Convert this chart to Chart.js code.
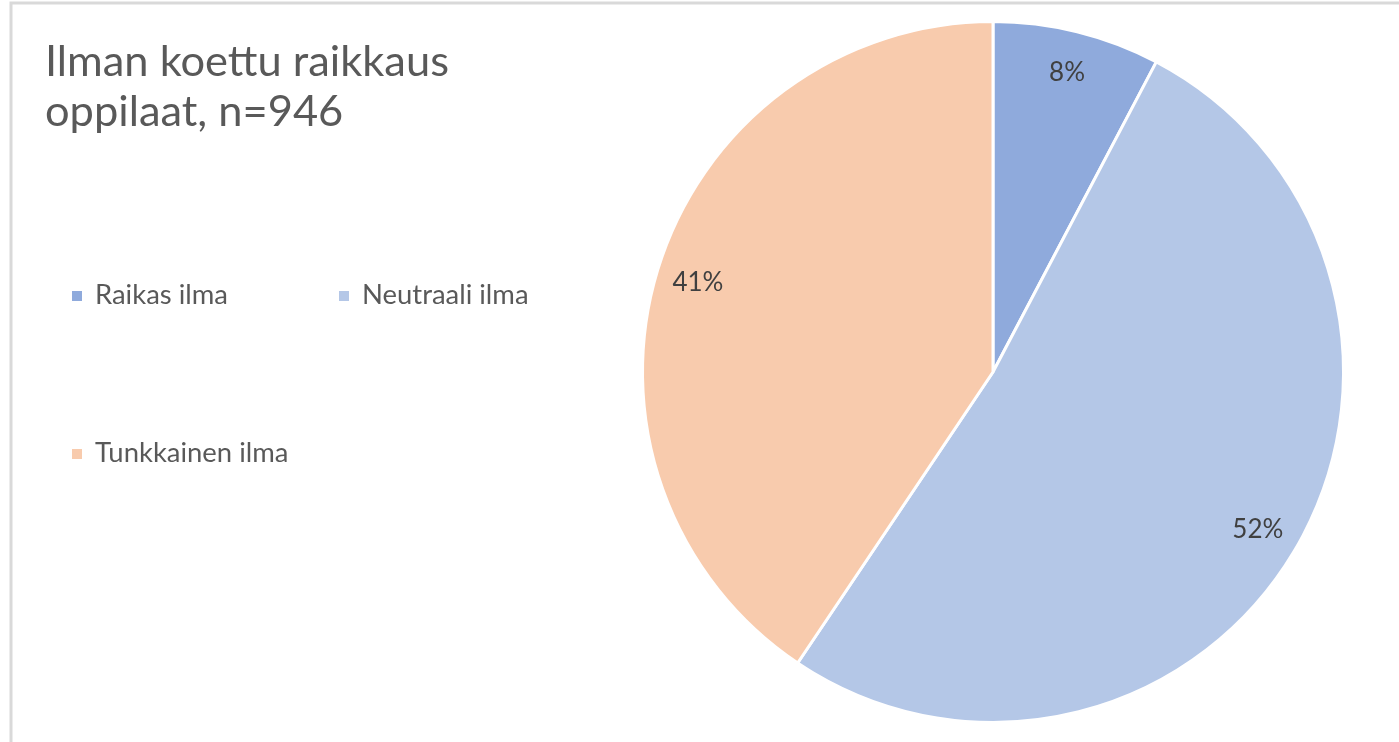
<!DOCTYPE html>
<html>
<head>
<meta charset="utf-8">
<script src="https://cdn.jsdelivr.net/npm/chart.js@4/dist/chart.umd.min.js"></script>
<style>
  html, body { margin: 0; padding: 0; background: #ffffff; }
  #wrap { position: relative; width: 1399px; height: 742px; }
</style>
</head>
<body>
<div id="wrap"><canvas id="c" width="1399" height="742"></canvas></div>
<script>
// ---- data ----
const titleLines = ["Ilman koettu raikkaus", "oppilaat, n=946"];
const categories = ["Raikas ilma", "Neutraali ilma", "Tunkkainen ilma"];
const counts = [73, 489, 384];
const colors = ["#8faadc", "#b4c7e7", "#f8cbad"];

const FAMILY = "Lato, 'Open Sans', sans-serif";

function fitSize(ctx, text, targetW) {
  ctx.font = "100px " + FAMILY;
  const w = ctx.measureText(text).width;
  return 100 * targetW / w;
}

const decor = {
  id: "decor",
  beforeDraw(chart) {
    const ctx = chart.ctx;
    ctx.save();
    ctx.strokeStyle = "#d9d9d9";
    ctx.lineWidth = 3;
    ctx.beginPath();
    ctx.moveTo(11, 742);
    ctx.lineTo(11, 3);
    ctx.lineTo(1399, 3);
    ctx.stroke();
    ctx.restore();
  },
  afterDraw(chart) {
    const ctx = chart.ctx;
    ctx.save();
    // title
    const tSize = fitSize(ctx, titleLines[0], 404);
    ctx.font = tSize + "px " + FAMILY;
    ctx.fillStyle = "#595959";
    ctx.textAlign = "left";
    ctx.textBaseline = "alphabetic";
    ctx.fillText(titleLines[0], 45, 76);
    ctx.fillText(titleLines[1], 45, 126);

    // legend
    const labels = chart.data.labels;
    const bg = chart.data.datasets[0].backgroundColor;
    const lSize = fitSize(ctx, labels[0], 133);
    const pos = [[72, 304], [339, 304], [72, 462]];
    ctx.font = lSize + "px " + FAMILY;
    labels.forEach((lab, i) => {
      const [x, y] = pos[i];
      ctx.fillStyle = bg[i];
      ctx.fillRect(x, y - 13, 10, 10);
      ctx.fillStyle = "#595959";
      ctx.fillText(lab, x + 23, y);
    });

    // percent labels
    const meta = chart.getDatasetMeta(0);
    const data = chart.data.datasets[0].data;
    const total = data.reduce((a, b) => a + b, 0);
    const pSize = fitSize(ctx, "52%", 51);
    ctx.font = pSize + "px " + FAMILY;
    ctx.fillStyle = "#404040";
    ctx.textAlign = "center";
    ctx.textBaseline = "middle";
    meta.data.forEach((arc, i) => {
      const p = arc.getProps(["x", "y", "startAngle", "endAngle", "outerRadius"], true);
      const mid = (p.startAngle + p.endAngle) / 2;
      const r = p.outerRadius * 0.88;
      const txt = Math.round(data[i] / total * 100) + "%";
      ctx.fillText(txt, p.x + Math.cos(mid) * r, p.y + Math.sin(mid) * r);
    });
    ctx.restore();
  }
};

new Chart(document.getElementById("c"), {
  type: "pie",
  data: {
    labels: categories,
    datasets: [{
      data: counts,
      backgroundColor: colors,
      borderColor: "#ffffff",
      borderWidth: 3
    }]
  },
  options: {
    responsive: false,
    animation: false,
    layout: { padding: { left: 641, right: 54, top: 20, bottom: 18 } },
    plugins: {
      legend: { display: false },
      tooltip: { enabled: false },
      title: { display: false }
    }
  },
  plugins: [decor]
});
</script>
</body>
</html>
